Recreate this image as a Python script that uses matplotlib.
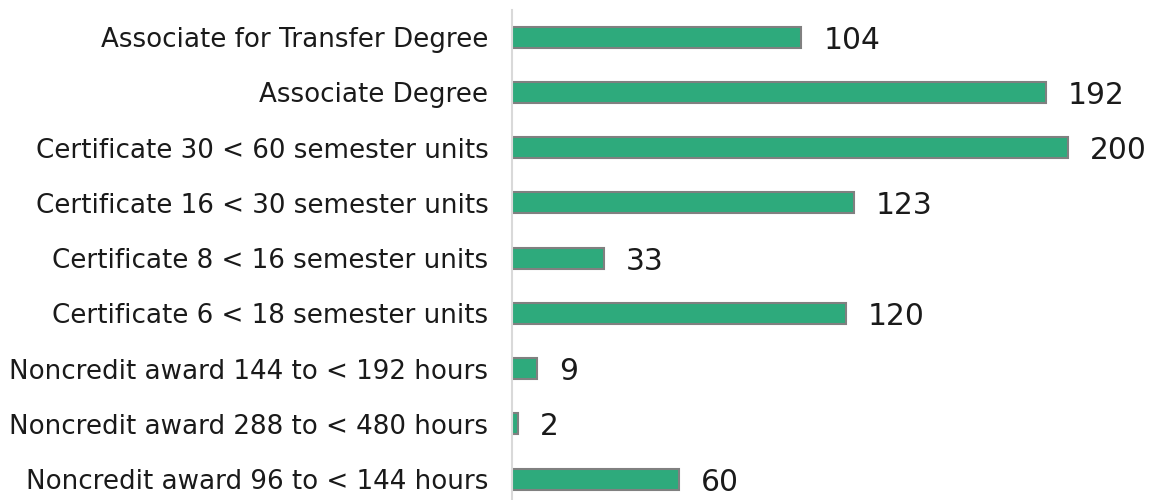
import matplotlib
matplotlib.use("Agg")
import matplotlib.pyplot as plt

categories = [
    "Associate for Transfer Degree",
    "Associate Degree",
    "Certificate 30 < 60 semester units",
    "Certificate 16 < 30 semester units",
    "Certificate 8 < 16 semester units",
    "Certificate 6 < 18 semester units",
    "Noncredit award 144 to < 192 hours",
    "Noncredit award 288 to < 480 hours",
    "Noncredit award 96 to < 144 hours",
]
values = [104, 192, 200, 123, 33, 120, 9, 2, 60]

plt.rcParams['font.family'] = ['DejaVu Sans']

W, H = 1150, 500
fig = plt.figure(figsize=(W / 100, H / 100), dpi=100)
ax = fig.add_axes([512 / W, 0 / H, (1150 - 512) / W, 490 / H])

pos = list(range(len(categories)))
ax.barh(pos, values, height=0.38, color="#2eaa7c", edgecolor="#808080", linewidth=1.5)
ax.set_ylim(8.38, -0.49)
ax.set_xlim(0, 229.5)
ax.set_yticks(pos)
ax.set_yticklabels(categories, fontsize=18.8, color="#1a1a1a")
ax.tick_params(axis="y", length=0, pad=17)
ax.set_xticks([])
for s in ["top", "right", "bottom"]:
    ax.spines[s].set_visible(False)
ax.spines["left"].set_color("#d9d9d9")
ax.spines["left"].set_linewidth(1.5)

for p, v in zip(pos, values):
    ax.annotate(str(v), (v, p), xytext=(16, 0), textcoords="offset points",
                va="center_baseline", ha="left", fontsize=21.4, color="#1a1a1a")

fig.savefig("out.png", dpi=100)
